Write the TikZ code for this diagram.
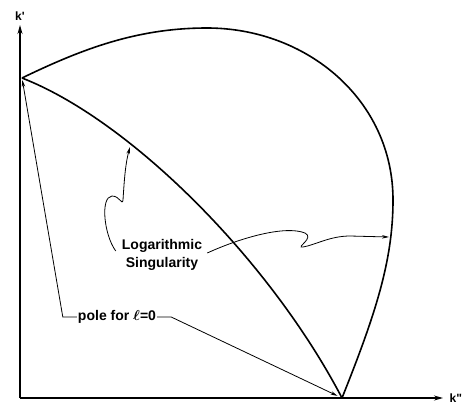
\documentclass[tikz,border=0pt]{standalone}
\usepackage{fontspec}
\setmainfont{Liberation Sans}
\usepackage{tikz}
\usetikzlibrary{arrows.meta}

\begin{document}
\begin{tikzpicture}[x=1pt,y=-1pt,
	axis/.style={line width=1.2pt,-{Stealth[length=9pt,width=5pt]}},
	curve/.style={line width=1.6pt},
	pointer/.style={line width=0.8pt,-{Stealth[length=7pt,width=3.5pt]}},
	lbl/.style={font=\fontsize{14}{18}\selectfont\bfseries\boldmath,inner sep=1pt},
	axlbl/.style={font=\fontsize{12}{14}\selectfont\bfseries,inner sep=1pt}]
	\useasboundingbox (0,0) rectangle (465,407);
	\coordinate (O) at (20,398);
	\coordinate (A) at (22,78);
	\coordinate (B) at (342,398);
	\coordinate (s1) at (130,147);
	\coordinate (s2) at (389,237);
	\draw[axis] (O)--(20,25) node[axlbl,above=3pt] (kp) {k\textquotesingle};
	\draw[axis] (O)--(443,398) node[axlbl,right=5pt] (kpp) {k\textquotedbl};
	\draw[curve] (A) .. controls (82,49) and (137,28) .. (207,28)
		.. controls (307,28) and (393,100) .. (393,200)
		.. controls (393,260) and (376,313) .. (B);
	\draw[curve] (A) .. controls (130,120) and (270,260) .. (B);
	\node[lbl,align=center] (log) at (162,255) {Logarithmic\\Singularity};
	\node[lbl] (pole) at (117,317) {pole for $\ell$=0};
	\draw[pointer] ([xshift=-5pt,yshift=4pt]log.west) .. controls (104,235) and (100,197) .. (112,196)
		.. controls (120,196) and (122,206) .. (123,200)
		.. controls (124,185) and (125,165) .. (s1);
	\draw[pointer] ([xshift=4pt,yshift=2pt]log.east) .. controls (240,238) and (285,225) .. (305,233)
		.. controls (315,238) and (295,248) .. (303,247)
		.. controls (315,245) and (330,236) .. (350,236) -- (s2);
	\draw[pointer,shorten >=2pt] (pole.west) -- ++(-14,0) -- (A);
	\draw[pointer,shorten >=5pt] (pole.east) -- ++(14,0) -- (B);
\end{tikzpicture}
\end{document}
